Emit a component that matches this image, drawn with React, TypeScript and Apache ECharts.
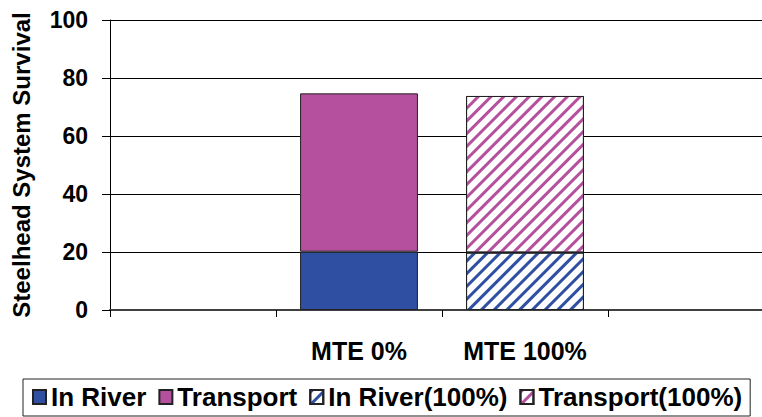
import React, { useEffect, useRef } from "react";
import * as echarts from "echarts";

const categories = ["", "MTE 0%", "MTE 100%", ""];
const inRiver = [null, 20.1, null, null];
const transport = [null, 54.6, null, null];
const inRiver100 = [null, null, 19.8, null];
const transport100 = [null, null, 54.0, null];
const yTicks = { min: 0, max: 100, interval: 20 };

const BLUE = "#2E4FA2";
const MAGENTA = "#B4509E";
const FONT = "Liberation Sans, Arial, sans-serif";

function hatch(color: string) {
  return {
    color,
    backgroundColor: "rgba(0,0,0,0)",
    symbol: "rect",
    symbolSize: 1,
    dashArrayX: [1, 0],
    dashArrayY: [3, 5.5],
    rotation: -Math.PI / 4,
  };
}

export default function App() {
  const ref = useRef<HTMLDivElement>(null);
  useEffect(() => {
    if (!ref.current) return;
    const chart = echarts.init(ref.current, null, { renderer: "svg" });
    const border = { borderColor: "#222", borderWidth: 1 };
    chart.setOption({
      animation: false,
      backgroundColor: "#fff",
      grid: { left: 110, top: 20, right: -12, bottom: 107, containLabel: false, outerBoundsMode: "none" },
      legend: {
        left: 23,
        top: 379,
        padding: [5, 8, 6, 9],
        itemGap: 12,
        itemWidth: 13,
        itemHeight: 14,
        icon: "rect",
        borderColor: "#222",
        borderWidth: 1,
        textStyle: { fontFamily: FONT, fontWeight: "bold", fontSize: 26, color: "#000" },
        data: ["In River", "Transport", "In River(100%)", "Transport(100%)"],
      },
      xAxis: {
        type: "category",
        data: categories,
        axisLine: { lineStyle: { color: "#404040", width: 2 } },
        axisTick: { show: true, length: 7, lineStyle: { color: "#000", width: 1 } },
        axisLabel: { margin: 28, fontFamily: FONT, fontWeight: "bold", fontSize: 25, color: "#000" },
        splitLine: { show: false },
      },
      yAxis: {
        type: "value",
        ...yTicks,
        name: "Steelhead System Survival",
        nameLocation: "middle",
        nameGap: 77,
        nameRotate: 90,
        nameTextStyle: { fontFamily: FONT, fontWeight: "bold", fontSize: 24, color: "#000" },
        axisLine: { show: true, lineStyle: { color: "#000", width: 1 } },
        axisTick: { show: true, length: 8, lineStyle: { color: "#000" } },
        axisLabel: { margin: 22, fontFamily: FONT, fontWeight: "bold", fontSize: 23, color: "#000" },
        splitLine: { show: true, lineStyle: { color: "#000", width: 1 } },
      },
      series: [
        { name: "In River", type: "bar", stack: "s", barWidth: "71%", data: inRiver, itemStyle: { color: BLUE, ...border } },
        { name: "Transport", type: "bar", stack: "s", barWidth: "71%", data: transport, itemStyle: { color: MAGENTA, ...border } },
        { name: "In River(100%)", type: "bar", stack: "s", barWidth: "71%", data: inRiver100, itemStyle: { color: "#fff", decal: hatch(BLUE), ...border } },
        { name: "Transport(100%)", type: "bar", stack: "s", barWidth: "71%", data: transport100, itemStyle: { color: "#fff", decal: hatch(MAGENTA), ...border } },
      ],
    });
    return () => chart.dispose();
  }, []);
  return <div ref={ref} style={{ position: "fixed", left: 0, top: 0, width: 762, height: 417 }} />;
}
